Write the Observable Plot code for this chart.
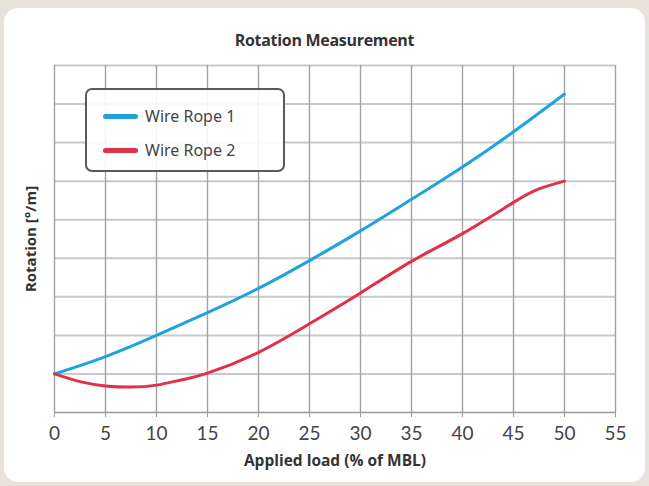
<!DOCTYPE html>
<html>
<head>
<meta charset="utf-8">
<script src="https://cdn.jsdelivr.net/npm/d3@7"></script>
<script src="https://cdn.jsdelivr.net/npm/@observablehq/plot@0.6"></script>
<style>
  html, body { margin: 0; padding: 0; }
  body { width: 649px; height: 486px; background: #e7e3da; position: relative; overflow: hidden; font-family: Lato, "Open Sans", sans-serif; }
  #card { position: absolute; left: 4px; top: 8px; width: 641px; height: 474px; background: #fff; border-radius: 14px; }
  #title { position: absolute; left: 0; width: 649px; top: 29px; text-align: center; font-family: "Open Sans", sans-serif; font-weight: 700; font-size: 16px; letter-spacing: -0.3px; color: #333; }
  #chart { position: absolute; left: 0; top: 0; }
  #legend { position: absolute; left: 85px; top: 88px; width: 196px; height: 80px; border: 2px solid #5a5a5a; border-radius: 7px; background: rgba(255,255,255,0.88); box-sizing: content-box; }
  .item { position: absolute; left: 16px; height: 20px; display: flex; align-items: center; font-family: "Noto Sans", sans-serif; font-size: 16px; color: #444; }
  .sw { width: 35px; height: 5px; border-radius: 3px; margin-right: 7px; }
</style>
</head>
<body>
<div id="card"></div>
<div id="chart"></div>
<div id="title">Rotation Measurement</div>
<div id="legend"></div>
<script>
const seriesNames = ["Wire Rope 1", "Wire Rope 2"];
const seriesColors = ["#1ea3dc", "#e0304a"];

const rope1X = [0, 5, 10, 15, 20, 25, 30, 35, 40, 45, 50];
const rope1Y = [0, 0.45, 1.0, 1.59, 2.22, 2.94, 3.71, 4.53, 5.37, 6.28, 7.26];

const rope2X = [0, 2.5, 5, 7.5, 10, 12.5, 15, 20, 25, 30, 35, 40, 45, 47.5, 50];
const rope2Y = [0, -0.2, -0.31, -0.34, -0.29, -0.15, 0.02, 0.56, 1.3, 2.1, 2.92, 3.64, 4.45, 4.8, 5.0];

const xTicks = [0, 5, 10, 15, 20, 25, 30, 35, 40, 45, 50, 55];
const yGrid = [0, 1, 2, 3, 4, 5, 6, 7, 8];

const xLabel = "Applied load (% of MBL)";
const yLabel = "Rotation [°/m]";

const data = [
  ...rope1X.map((x, i) => ({series: seriesNames[0], x, y: rope1Y[i]})),
  ...rope2X.map((x, i) => ({series: seriesNames[1], x, y: rope2Y[i]}))
];

const chart = Plot.plot({
  width: 649,
  height: 486,
  marginLeft: 54,
  marginRight: 34,
  marginTop: 65,
  marginBottom: 74,
  style: {background: "transparent", fontFamily: "Lato, sans-serif"},
  x: {domain: [0, 55], ticks: xTicks},
  y: {domain: [-1, 8]},
  color: {domain: seriesNames, range: seriesColors},
  marks: [
    Plot.gridY({ticks: yGrid, stroke: "#c9c9c9", strokeOpacity: 1, strokeWidth: 2}),
    Plot.gridX({ticks: xTicks, stroke: "#a3a3a3", strokeOpacity: 1, strokeWidth: 1.4}),
    Plot.ruleY([-1], {stroke: "#9a9a9a", strokeWidth: 1.5}),
    Plot.axisX({ticks: xTicks, tickSize: 5, tickPadding: 9, fontSize: 19, fill: "#444", stroke: "#9a9a9a", label: null, fontFamily: "Lato, sans-serif"}),
    Plot.axisY({ticks: [], label: null}),
    Plot.line(data, {x: "x", y: "y", z: "series", stroke: "series", strokeWidth: 3, curve: "natural"}),
    Plot.text([xLabel], {frameAnchor: "bottom", dy: 53, fontSize: 15.5, fontWeight: 700, fill: "#333", fontFamily: "Open Sans, sans-serif", letterSpacing: -0.3}),
    Plot.text([yLabel], {frameAnchor: "left", textAnchor: "middle", dx: -23, rotate: -90, fontSize: 15, fontWeight: 700, fill: "#333", fontFamily: "Open Sans, sans-serif"})
  ]
});
document.getElementById("chart").appendChild(chart);

const legend = document.getElementById("legend");
seriesNames.forEach((name, i) => {
  const item = document.createElement("div");
  item.className = "item";
  item.style.top = (16 + i * 34) + "px";
  const sw = document.createElement("div");
  sw.className = "sw";
  sw.style.background = seriesColors[i];
  item.appendChild(sw);
  item.appendChild(document.createTextNode(name));
  legend.appendChild(item);
});
</script>
</body>
</html>
